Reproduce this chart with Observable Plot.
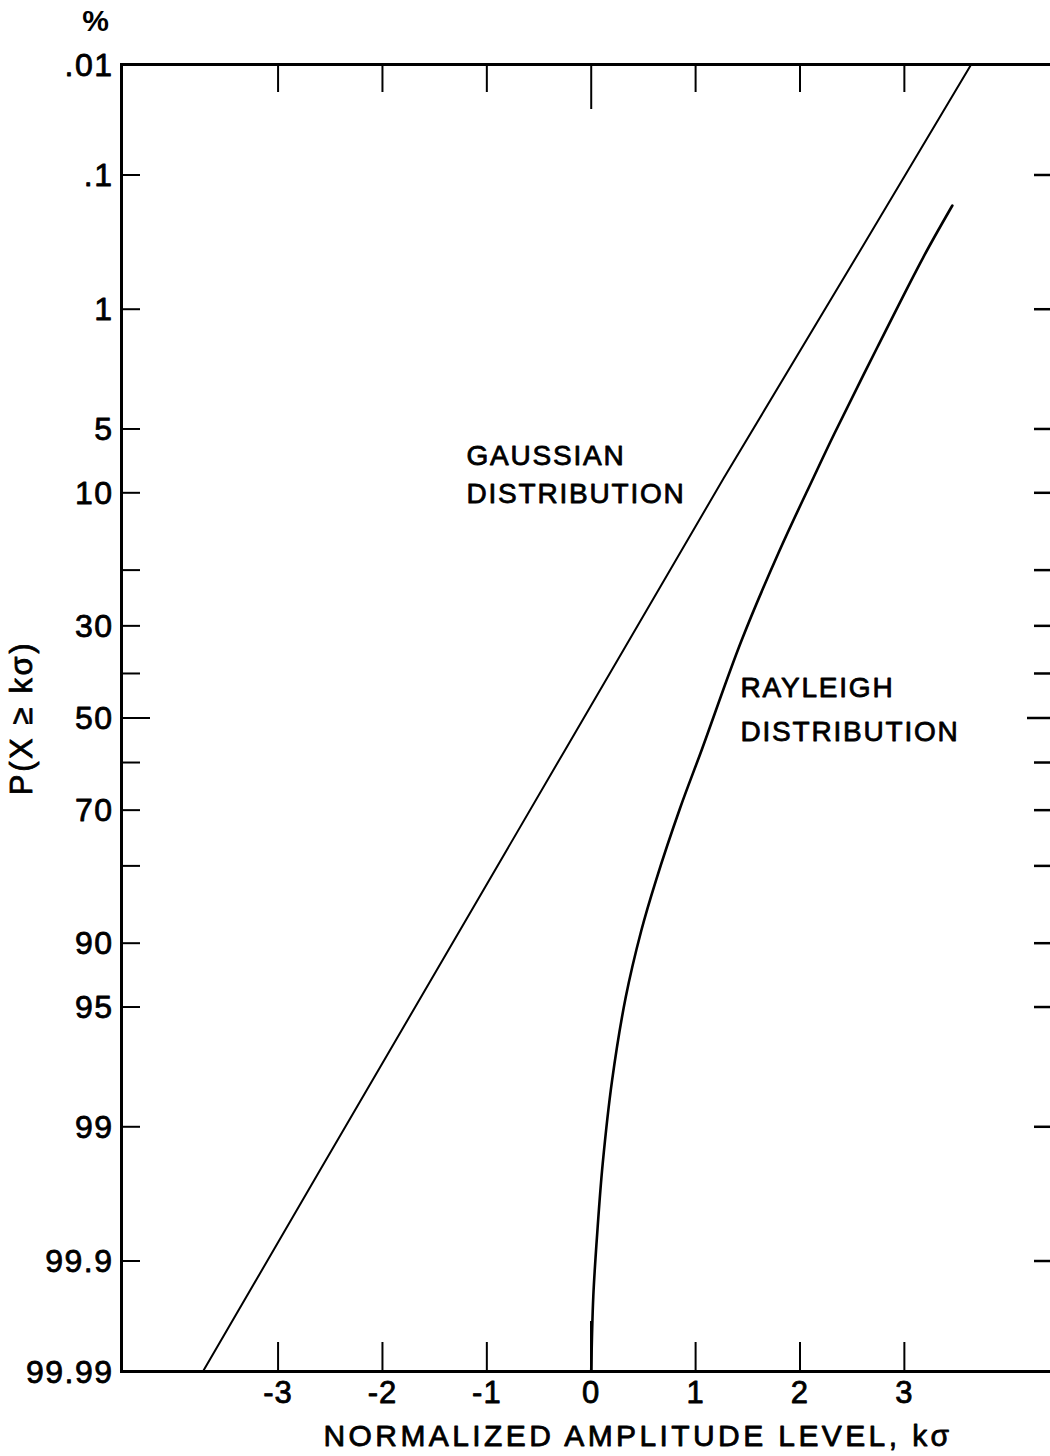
<!DOCTYPE html>
<html><head><meta charset="utf-8">
<script src="https://cdn.jsdelivr.net/npm/d3@7"></script>
<script src="https://cdn.jsdelivr.net/npm/@observablehq/plot@0.6"></script>
<style>
html,body{margin:0;padding:0;background:#fff;overflow:hidden;}
#chart svg{display:block;overflow:hidden;}
</style></head><body><div id="chart"></div>
<script>
// ---- data ----
const pTicks = [0.1, 1, 5, 10, 20, 30, 40, 50, 60, 70, 80, 90, 95, 99, 99.9];
const pLabelValues = [0.01, 0.1, 1, 5, 10, 30, 50, 70, 90, 95, 99, 99.9, 99.99];
const pLabels = [".01", ".1", "1", "5", "10", "30", "50", "70", "90", "95", "99", "99.9", "99.99"];
const kTicks = [-3, -2, -1, 0, 1, 2, 3];
const kLabels = ["-3", "-2", "-1", "0", "1", "2", "3"];

// Gaussian distribution: amplitude level k and exceedance probability (%)
const gaussK = [-3.72, -2.60, -0.25, 1.27, 2.56, 3.64];
const gaussP = [99.99, 99.5, 57.2, 8.6, 0.41, 0.01];

// Rayleigh distribution
const rayK = [0, 0.02, 0.06, 0.11, 0.20, 0.33, 0.48, 0.62, 0.85, 1.06, 1.44, 1.80, 2.13, 2.33, 2.74, 3.18, 3.46];
const rayP = [99.99, 99.95, 99.82, 99.44, 98.04, 94.42, 88.67, 82.25, 69.67, 57.1, 32.96, 17.17, 8.55, 5.27, 1.75, 0.439, 0.177];

const noteK = [-1.195, 1.43];
const noteP = [6.2, 40.6];
const noteText = ["GAUSSIAN\nDISTRIBUTION", "RAYLEIGH\nDISTRIBUTION"];

const xTitle = "NORMALIZED AMPLITUDE LEVEL, kσ";
const yTitle = "P(X ≥ kσ)";
const yUnit = "%";

// ---- probability-paper transform (inverse normal CDF, Acklam) ----
function qnorm(p) {
  const a = [-3.969683028665376e+01, 2.209460984245205e+02, -2.759285104469687e+02, 1.383577518672690e+02, -3.066479806614716e+01, 2.506628277459239e+00];
  const b = [-5.447609879822406e+01, 1.615858368580409e+02, -1.556989798598866e+02, 6.680131188771972e+01, -1.328068155288572e+01];
  const c = [-7.784894002430293e-03, -3.223964580411365e-01, -2.400758277161838e+00, -2.549732539343734e+00, 4.374664141464968e+00, 2.938163982698783e+00];
  const d = [7.784695709041462e-03, 3.224671290700398e-01, 2.445134137142996e+00, 3.754408661907416e+00];
  const pl = 0.02425, ph = 1 - pl;
  let q, r;
  if (p < pl) { q = Math.sqrt(-2 * Math.log(p)); return (((((c[0]*q+c[1])*q+c[2])*q+c[3])*q+c[4])*q+c[5]) / ((((d[0]*q+d[1])*q+d[2])*q+d[3])*q+1); }
  if (p <= ph) { q = p - 0.5; r = q*q; return (((((a[0]*r+a[1])*r+a[2])*r+a[3])*r+a[4])*r+a[5])*q / (((((b[0]*r+b[1])*r+b[2])*r+b[3])*r+b[4])*r+1); }
  q = Math.sqrt(-2 * Math.log(1 - p)); return -(((((c[0]*q+c[1])*q+c[2])*q+c[3])*q+c[4])*q+c[5]) / ((((d[0]*q+d[1])*q+d[2])*q+d[3])*q+1);
}
const zOf = pct => qnorm(1 - pct / 100);

const gauss = gaussK.map((k, i) => ({k, p: gaussP[i]}));
const ray = rayK.map((k, i) => ({k, p: rayP[i]}));
const pLab = pLabelValues.map((p, i) => ({p, label: pLabels[i]}));
const kLab = kTicks.map((k, i) => ({k, label: kLabels[i]}));
const notes = noteK.map((k, i) => ({k, p: noteP[i], text: noteText[i]}));

const W = 1050, H = 1456;
const mT = 64, mB = 85, mL = 121, mR = 0;
const frameH = H - mT - mB;
const frameW = W - mL - mR;
const font = "'Liberation Sans', Arial, sans-serif";
const ink = {fill: "black", stroke: "black", strokeWidth: 0.8};

const chart = Plot.plot({
  width: W, height: H,
  marginTop: mT, marginBottom: mB, marginLeft: mL, marginRight: mR,
  style: {fontFamily: font, background: "white", color: "black", overflow: "hidden"},
  x: {domain: [-4.5, 4.4], axis: null},
  y: {domain: [zOf(99.99), zOf(0.01)], axis: null},
  marks: [
    Plot.frame({stroke: "black", strokeWidth: 3, insetRight: -10}),
    // left ticks
    Plot.tickY(pTicks.filter(p => p !== 50), {y: zOf, stroke: "black", strokeWidth: 2, insetRight: frameW - 19}),
    Plot.tickY([50], {y: zOf, stroke: "black", strokeWidth: 2, insetRight: frameW - 29}),
    // right ticks
    Plot.tickY(pTicks.filter(p => p !== 50), {y: zOf, stroke: "black", strokeWidth: 2.5, insetLeft: frameW - 16}),
    Plot.tickY([50], {y: zOf, stroke: "black", strokeWidth: 2.5, insetLeft: frameW - 23}),
    // bottom ticks
    Plot.tickX(kTicks.filter(k => k !== 0), {x: d => d, stroke: "black", strokeWidth: 2, insetTop: frameH - 29}),
    Plot.tickX([0], {x: d => d, stroke: "black", strokeWidth: 2.5, insetTop: frameH - 50}),
    // top ticks
    Plot.tickX(kTicks.filter(k => k !== 0), {x: d => d, stroke: "black", strokeWidth: 2, insetBottom: frameH - 28}),
    Plot.tickX([0], {x: d => d, stroke: "black", strokeWidth: 2, insetBottom: frameH - 45}),
    // curves
    Plot.line(gauss, {x: "k", y: d => zOf(d.p), stroke: "black", strokeWidth: 2}),
    Plot.line(ray, {x: "k", y: d => zOf(d.p), curve: "catmull-rom", stroke: "black", strokeWidth: 2.6}),
    // y tick labels
    Plot.text(pLab, {y: d => zOf(d.p), text: "label", frameAnchor: "left", textAnchor: "end", lineAnchor: "middle", dx: -8, dy: 1, fontSize: 32, ariaLabel: () => "plabel", ...ink}),
    // x tick labels
    Plot.text(kLab, {x: "k", text: "label", frameAnchor: "bottom", textAnchor: "middle", lineAnchor: "middle", dy: 22, fontSize: 31, ariaLabel: () => "klabel", ...ink}),
    // titles
    Plot.text([xTitle], {text: d => d, frameAnchor: "bottom", textAnchor: "middle", lineAnchor: "middle", dy: 65, dx: 52, fontSize: 30, ariaLabel: () => "xtitle", ...ink}),
    Plot.text([yTitle], {text: d => d, frameAnchor: "left", textAnchor: "middle", lineAnchor: "middle", dx: -99, rotate: -90, fontSize: 31, ariaLabel: () => "ytitle", ...ink}),
    Plot.text([yUnit], {text: d => d, frameAnchor: "top-left", textAnchor: "middle", lineAnchor: "middle", dx: -26, dy: -43, fontSize: 30, fontWeight: "bold", fill: "black"}),
    // annotations
    Plot.text(notes.slice(0, 1), {x: "k", y: d => zOf(d.p), text: "text", textAnchor: "start", lineAnchor: "top", lineHeight: 1.36, dy: -10, fontSize: 28, ariaLabel: () => "note", ...ink}),
    Plot.text(notes.slice(1), {x: "k", y: d => zOf(d.p), text: "text", textAnchor: "start", lineAnchor: "top", lineHeight: 1.57, dy: -10, fontSize: 28, ariaLabel: () => "note", ...ink})
  ]
});
// letter spacing of the hand lettering
const spacing = {plabel: "1.5px", klabel: "1px", xtitle: "3.4px", ytitle: "2.6px", note: "1.8px"};
d3.select(chart).selectAll("text").each(function () {
  let el = this, key = null;
  while (el && el !== chart && !key) { const a = el.getAttribute && el.getAttribute("aria-label"); if (a && spacing[a]) key = a; el = el.parentNode; }
  if (key) this.style.letterSpacing = spacing[key];
});
document.getElementById("chart").appendChild(chart);
</script>
</body></html>
